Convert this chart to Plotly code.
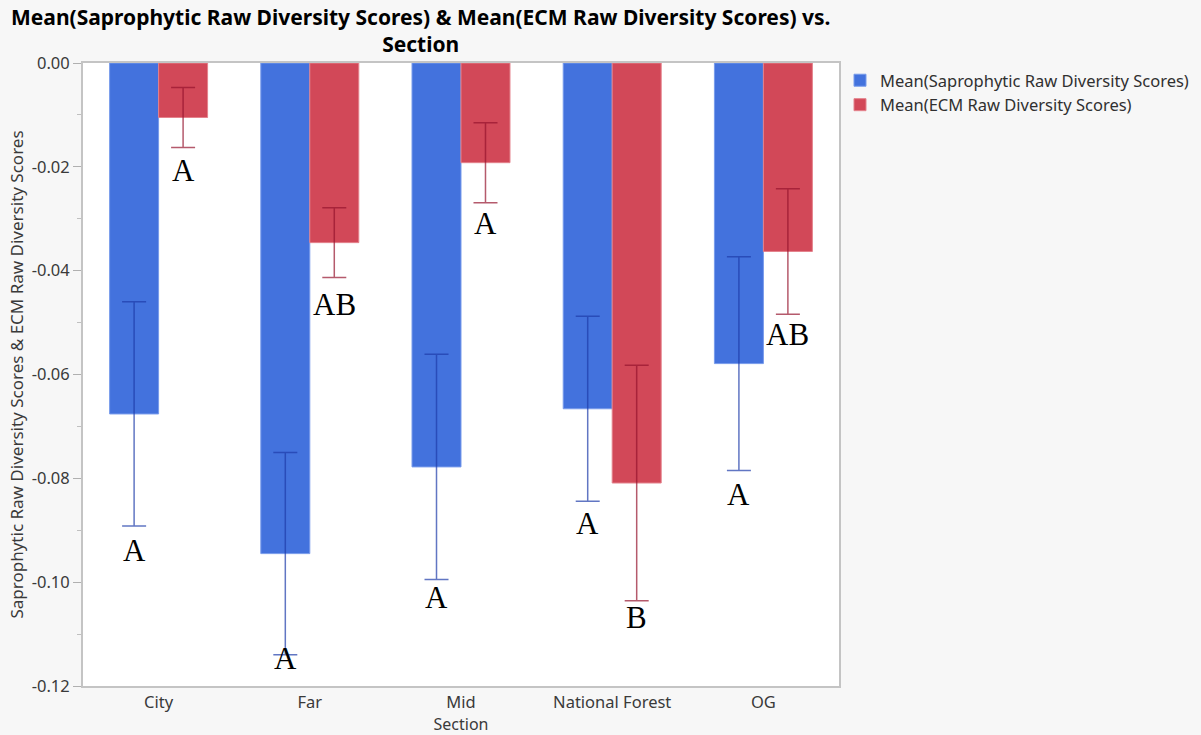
import plotly.graph_objects as go

# Section categories along the x axis
sections = ["City", "Far", "Mid", "National Forest", "OG"]

# Mean raw diversity scores per section
sap_mean = [-0.0676, -0.0945, -0.0778, -0.0666, -0.0579]
ecm_mean = [-0.0105, -0.0346, -0.0192, -0.0809, -0.0363]

# Symmetric error half-widths
sap_err = [0.0216, 0.0195, 0.0217, 0.0178, 0.0206]
ecm_err = [0.0058, 0.0067, 0.0077, 0.0227, 0.0121]

# Significance group letters
sap_letters = ["A", "A", "A", "A", "A"]
ecm_letters = ["A", "AB", "A", "B", "AB"]

# Y axis ticks
y_tick_vals = [0.0, -0.02, -0.04, -0.06, -0.08, -0.10, -0.12]
y_tick_text = ["0.00", "-0.02", "-0.04", "-0.06", "-0.08", "-0.10", "-0.12"]

SAP_NAME = "Mean(Saprophytic Raw Diversity Scores)"
ECM_NAME = "Mean(ECM Raw Diversity Scores)"
BLUE = "rgb(67,114,221)"
RED = "rgb(210,72,88)"
TEXT = "#3a3a3a"

fig = go.Figure()
fig.add_trace(go.Bar(
    x=sections, y=sap_mean, name=SAP_NAME,
    marker=dict(color=BLUE, line=dict(color="rgb(120,155,235)", width=1)),
    error_y=dict(type="data", array=sap_err, visible=True,
                 color="rgba(30,60,170,0.7)", thickness=1.5, width=12),
))
fig.add_trace(go.Bar(
    x=sections, y=ecm_mean, name=ECM_NAME,
    marker=dict(color=RED, line=dict(color="rgb(228,130,140)", width=1)),
    error_y=dict(type="data", array=ecm_err, visible=True,
                 color="rgba(150,20,45,0.7)", thickness=1.5, width=12),
))

# Letter labels sit just below each error bar's lower cap
sap_gap = [24, 4, 18, 22, 24]
ecm_gap = [23, 27, 21, 17, 20]
half_bar = 24.5
annotations = []
for i, sec in enumerate(sections):
    for mean, err, letter, gap, dx in (
        (sap_mean[i], sap_err[i], sap_letters[i], sap_gap[i], -half_bar),
        (ecm_mean[i], ecm_err[i], ecm_letters[i], ecm_gap[i], half_bar),
    ):
        annotations.append(dict(
            x=sec, y=mean - err, xref="x", yref="y",
            text=letter, showarrow=False,
            xshift=dx, yshift=-gap, yanchor="middle",
            font=dict(family="Liberation Serif", size=31, color="black"),
        ))

# Two-line chart title placed above the plot area
annotations.append(dict(
    text="Mean(Saprophytic Raw Diversity Scores) & Mean(ECM Raw Diversity Scores) vs.<br>Section",
    x=(420 - 83) / (839 - 83), xref="paper", xanchor="center",
    y=1.0, yref="paper", yanchor="bottom", yshift=3,
    showarrow=False, align="center",
    font=dict(family="Noto Sans", size=21, color="black", weight="bold"),
))

fig.update_layout(
    width=1201, height=735,
    margin=dict(l=83, r=362, t=63, b=49, autoexpand=False),
    paper_bgcolor="#f7f7f7", plot_bgcolor="white",
    barmode="group", bargap=0.352, bargroupgap=0,
    font=dict(family="Noto Sans", size=16, color=TEXT),
    legend=dict(
        x=840 / 1201, xref="container", xanchor="left",
        y=1.0, yanchor="top",
        bgcolor="rgba(0,0,0,0)", font=dict(size=16.5, color="#303030"),
        tracegroupgap=0, itemwidth=30,
    ),
    annotations=annotations,
)
fig.update_xaxes(
    title=dict(text="Section", font=dict(size=16, color=TEXT), standoff=6),
    showline=True, linecolor="#c4c4c4", linewidth=2, mirror=True,
    ticks="", tickfont=dict(size=16.5, color=TEXT),
)
fig.update_yaxes(
    title=dict(text="Saprophytic Raw Diversity Scores & ECM Raw Diversity Scores",
               font=dict(size=17, color=TEXT), standoff=4),
    range=[-0.12, 0.0], tickvals=y_tick_vals, ticktext=y_tick_text,
    showgrid=False, zeroline=False,
    showline=True, linecolor="#c4c4c4", linewidth=2, mirror=True,
    ticks="outside", ticklen=8, tickcolor="#b0b0b0",
    tickfont=dict(size=16.5, color=TEXT),
    minor=dict(tickvals=[-0.01, -0.03, -0.05, -0.07, -0.09, -0.11],
               ticks="outside", ticklen=4, tickcolor="#c0c0c0"),
)

fig.write_html("out.html")
